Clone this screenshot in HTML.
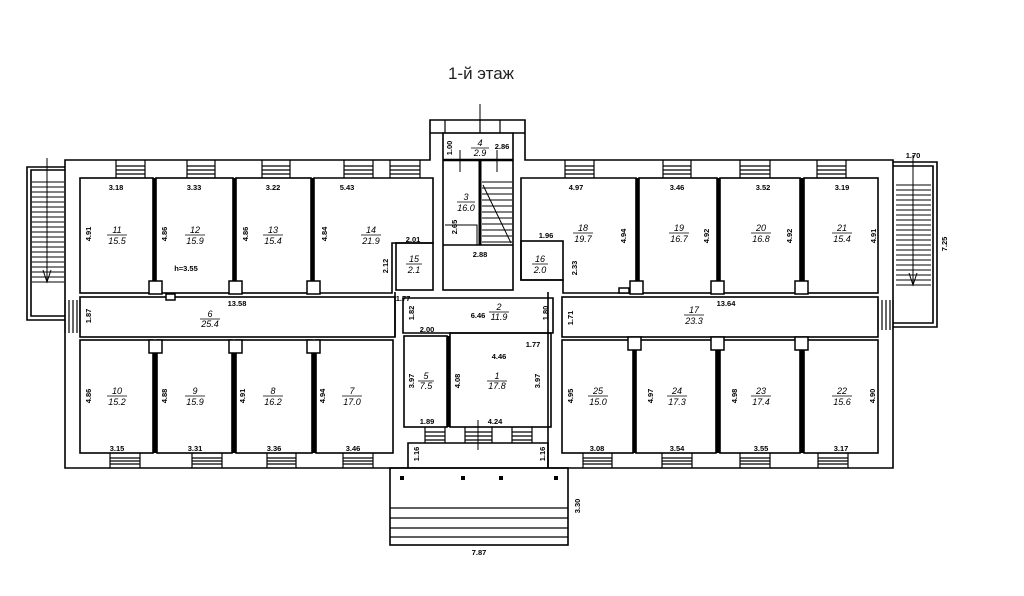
<!DOCTYPE html>
<html><head><meta charset="utf-8"><style>
html,body{margin:0;padding:0;background:#fff;}
svg{display:block;}
text{font-family:"Liberation Sans",sans-serif;}
.d{font-size:7.5px;font-weight:bold;}
.n{font-size:9px;font-style:italic;}
</style></head><body>
<svg width="1024" height="596" viewBox="0 0 1024 596" xmlns="http://www.w3.org/2000/svg">
<rect width="1024" height="596" fill="#fff"/>
<text x="481" y="79" font-size="17" text-anchor="middle" fill="#222">1-й этаж</text>

<g fill="none" stroke="#000" stroke-width="1.6">
<path d="M65,160 H430 V120 H525 V160 H893 V468 H65 Z" fill="#fff"/>
<path d="M430,133 H443 M513,133 H525"/>
<rect x="443" y="133" width="70" height="157"/>
<line x1="443" y1="160" x2="513" y2="160" stroke-width="2.5"/>
<line x1="443" y1="245" x2="513" y2="245"/>
<rect x="80" y="178" width="73" height="115"/>
<rect x="156" y="178" width="77" height="115"/>
<rect x="236" y="178" width="75" height="115"/>
<path d="M314,178 H433 V243 H392 V293 H314 Z"/>
<rect x="396" y="243" width="37" height="47"/>
<rect x="80" y="297" width="315" height="40"/>
<rect x="80" y="340" width="73" height="113"/>
<rect x="157" y="340" width="75" height="113"/>
<rect x="236" y="340" width="76" height="113"/>
<rect x="316" y="340" width="77" height="113"/>
<path d="M395,292 V337 M403,298 H553 V333 H403 Z"/>
<rect x="404" y="336" width="43" height="91"/>
<rect x="450" y="333" width="101" height="94"/>
<path d="M408,453 V443 H548 V453 M408,468 V453 M548,468 V453"/>
<path d="M521,178 H636 V293 H563 V280 H521 Z"/>
<rect x="521" y="241" width="42" height="39"/>
<rect x="639" y="178" width="78" height="115"/>
<rect x="720" y="178" width="80" height="115"/>
<rect x="804" y="178" width="74" height="115"/>
<path d="M548,292 V468"/>
<rect x="562" y="297" width="316" height="40"/>
<rect x="562" y="340" width="71" height="113"/>
<rect x="636" y="340" width="80" height="113"/>
<rect x="720" y="340" width="80" height="113"/>
<rect x="804" y="340" width="74" height="113"/>
<rect x="390" y="468" width="178" height="77"/>
<path d="M390,508 H568 M390,518 H568 M390,528 H568 M390,537 H568" stroke-width="1.2"/>
<path d="M65,167 H27 V320 H65 M65,170 H31 V316 H65"/>
<path d="M893,162 H937 V327 H893 M893,166 H933 V323 H893"/>
</g>

<g stroke="#000" stroke-width="3.5">
<line x1="154.5" y1="178" x2="154.5" y2="282"/>
<line x1="234.5" y1="178" x2="234.5" y2="282"/>
<line x1="312.5" y1="178" x2="312.5" y2="282"/>
<line x1="155" y1="350" x2="155" y2="453"/>
<line x1="234" y1="350" x2="234" y2="453"/>
<line x1="314" y1="350" x2="314" y2="453"/>
<line x1="448.5" y1="336" x2="448.5" y2="427"/>
<line x1="637.5" y1="178" x2="637.5" y2="282"/>
<line x1="718.5" y1="178" x2="718.5" y2="282"/>
<line x1="802" y1="178" x2="802" y2="282"/>
<line x1="634.5" y1="350" x2="634.5" y2="453"/>
<line x1="718" y1="350" x2="718" y2="453"/>
<line x1="802" y1="350" x2="802" y2="453"/>
<line x1="480" y1="160" x2="480" y2="245" stroke-width="3"/>
</g>

<g fill="#fff" stroke="#000" stroke-width="1.5">
<rect x="149" y="281" width="13" height="13"/><rect x="229" y="281" width="13" height="13"/><rect x="307" y="281" width="13" height="13"/>
<rect x="149" y="340" width="13" height="13"/><rect x="229" y="340" width="13" height="13"/><rect x="307" y="340" width="13" height="13"/>
<rect x="630" y="281" width="13" height="13"/><rect x="711" y="281" width="13" height="13"/><rect x="795" y="281" width="13" height="13"/>
<rect x="628" y="337" width="13" height="13"/><rect x="711" y="337" width="13" height="13"/><rect x="795" y="337" width="13" height="13"/>
<rect x="166" y="294" width="9" height="6"/><rect x="619" y="288" width="10" height="5"/>
</g>

<g stroke="#000" stroke-width="1.2" fill="none">
<path d="M116,160 V178 M145,160 V178 M116,166 H145 M116,170 H145 M116,174 H145
M187,160 V178 M215,160 V178 M187,166 H215 M187,170 H215 M187,174 H215
M262,160 V178 M290,160 V178 M262,166 H290 M262,170 H290 M262,174 H290
M344,160 V178 M373,160 V178 M344,166 H373 M344,170 H373 M344,174 H373
M390,160 V178 M420,160 V178 M390,166 H420 M390,170 H420 M390,174 H420
M565,160 V178 M594,160 V178 M565,166 H594 M565,170 H594 M565,174 H594
M663,160 V178 M691,160 V178 M663,166 H691 M663,170 H691 M663,174 H691
M740,160 V178 M770,160 V178 M740,166 H770 M740,170 H770 M740,174 H770
M817,160 V178 M846,160 V178 M817,166 H846 M817,170 H846 M817,174 H846
M110,453 V468 M140,453 V468 M110,458 H140 M110,461 H140 M110,464 H140
M192,453 V468 M222,453 V468 M192,458 H222 M192,461 H222 M192,464 H222
M267,453 V468 M296,453 V468 M267,458 H296 M267,461 H296 M267,464 H296
M343,453 V468 M373,453 V468 M343,458 H373 M343,461 H373 M343,464 H373
M583,453 V468 M612,453 V468 M583,458 H612 M583,461 H612 M583,464 H612
M662,453 V468 M692,453 V468 M662,458 H692 M662,461 H692 M662,464 H692
M740,453 V468 M770,453 V468 M740,458 H770 M740,461 H770 M740,464 H770
M818,453 V468 M848,453 V468 M818,458 H848 M818,461 H848 M818,464 H848
M425,427 V443 M445,427 V443 M425,432 H445 M425,436 H445 M425,440 H445
M465,427 V443 M492,427 V443 M465,432 H492 M465,436 H492 M465,440 H492
M512,427 V443 M532,427 V443 M512,432 H532 M512,436 H532 M512,440 H532
M445,120 V133 M500,120 V133
M65,300 V333 M80,300 V333 M69,300 V333 M73,300 V333 M77,300 V333
M878,300 V330 M893,300 V330 M882,300 V330 M886,300 V330 M890,300 V330
M480,120 V133"/>
</g>
<g stroke="#000" stroke-width="1" fill="none">
<path d="M32,182 H64 M32,187 H64 M32,192 H64 M32,197 H64 M32,202 H64 M32,207 H64 M32,212 H64 M32,217 H64 M32,222 H64 M32,227 H64 M32,232 H64 M32,237 H64 M32,242 H64 M32,247 H64 M32,252 H64 M32,257 H64 M32,262 H64 M32,267 H64 M32,272 H64 M32,277 H64 M32,282 H64"/>
<path d="M47,158 V282 M43,270 L47,282 L51,270"/>
<path d="M896,185 H931 M896,190 H931 M896,195 H931 M896,200 H931 M896,205 H931 M896,210 H931 M896,215 H931 M896,220 H931 M896,225 H931 M896,230 H931 M896,235 H931 M896,240 H931 M896,245 H931 M896,250 H931 M896,255 H931 M896,260 H931 M896,265 H931 M896,270 H931 M896,275 H931 M896,280 H931 M896,285 H931"/>
<path d="M913,155 V285 M909,273 L913,285 L917,273"/>
<path d="M482,182 H512 M482,188 H512 M482,194 H512 M482,200 H512 M482,206 H512 M482,212 H512 M482,218 H512 M482,224 H512 M482,230 H512 M482,236 H512 M482,242 H512 M483,185 L511,243"/>
<path d="M445,225 H477 V245 M460,150 V172 M497,150 V172 M480,104 V125 M478,420 V450"/>
</g>
<g fill="#000"><rect x="400" y="476" width="4" height="4"/><rect x="461" y="476" width="4" height="4"/><rect x="499" y="476" width="4" height="4"/><rect x="554" y="476" width="4" height="4"/></g>

<g class="d" text-anchor="middle" fill="#000">
<text x="116" y="190">3.18</text><text x="194" y="190">3.33</text><text x="273" y="190">3.22</text><text x="347" y="190">5.43</text>
<text x="413" y="242">2.01</text><text x="186" y="271">h=3.55</text>
<text x="237" y="306">13.58</text><text x="403" y="301">1.77</text><text x="427" y="332">2.00</text>
<text x="478" y="318">6.46</text><text x="499" y="359">4.46</text><text x="533" y="347">1.77</text>
<text x="427" y="424">1.89</text><text x="495" y="424">4.24</text>
<text x="480" y="257">2.88</text><text x="502" y="149">2.86</text>
<text x="576" y="190">4.97</text><text x="677" y="190">3.46</text><text x="763" y="190">3.52</text><text x="842" y="190">3.19</text>
<text x="546" y="238">1.96</text><text x="726" y="306">13.64</text><text x="913" y="158">1.70</text>
<text x="117" y="451">3.15</text><text x="195" y="451">3.31</text><text x="274" y="451">3.36</text><text x="353" y="451">3.46</text>
<text x="597" y="451">3.08</text><text x="677" y="451">3.54</text><text x="761" y="451">3.55</text><text x="841" y="451">3.17</text>
<text x="479" y="555">7.87</text>
</g>
<g class="d" text-anchor="middle" fill="#000">
<text transform="translate(91,234) rotate(-90)">4.91</text>
<text transform="translate(167,234) rotate(-90)">4.86</text>
<text transform="translate(248,234) rotate(-90)">4.86</text>
<text transform="translate(327,234) rotate(-90)">4.84</text>
<text transform="translate(388,266) rotate(-90)">2.12</text>
<text transform="translate(452,148) rotate(-90)">1.00</text>
<text transform="translate(457,227) rotate(-90)">2.65</text>
<text transform="translate(91,316) rotate(-90)">1.87</text>
<text transform="translate(414,313) rotate(-90)">1.82</text>
<text transform="translate(548,313) rotate(-90)">1.80</text>
<text transform="translate(573,318) rotate(-90)">1.71</text>
<text transform="translate(577,268) rotate(-90)">2.33</text>
<text transform="translate(626,236) rotate(-90)">4.94</text>
<text transform="translate(709,236) rotate(-90)">4.92</text>
<text transform="translate(792,236) rotate(-90)">4.92</text>
<text transform="translate(876,236) rotate(-90)">4.91</text>
<text transform="translate(947,244) rotate(-90)">7.25</text>
<text transform="translate(91,396) rotate(-90)">4.86</text>
<text transform="translate(167,396) rotate(-90)">4.88</text>
<text transform="translate(245,396) rotate(-90)">4.91</text>
<text transform="translate(325,396) rotate(-90)">4.94</text>
<text transform="translate(414,381) rotate(-90)">3.97</text>
<text transform="translate(460,381) rotate(-90)">4.08</text>
<text transform="translate(540,381) rotate(-90)">3.97</text>
<text transform="translate(573,396) rotate(-90)">4.95</text>
<text transform="translate(653,396) rotate(-90)">4.97</text>
<text transform="translate(737,396) rotate(-90)">4.98</text>
<text transform="translate(875,396) rotate(-90)">4.90</text>
<text transform="translate(419,454) rotate(-90)">1.16</text>
<text transform="translate(545,454) rotate(-90)">1.16</text>
<text transform="translate(580,506) rotate(-90)">3.30</text>
</g>

<g class="n" text-anchor="middle" fill="#000" stroke="none">
<text x="117" y="233">11</text><text x="117" y="244">15.5</text>
<text x="195" y="233">12</text><text x="195" y="244">15.9</text>
<text x="273" y="233">13</text><text x="273" y="244">15.4</text>
<text x="371" y="233">14</text><text x="371" y="244">21.9</text>
<text x="414" y="262">15</text><text x="414" y="273">2.1</text>
<text x="480" y="146">4</text><text x="480" y="156">2.9</text>
<text x="466" y="200">3</text><text x="466" y="211">16.0</text>
<text x="540" y="262">16</text><text x="540" y="273">2.0</text>
<text x="210" y="317">6</text><text x="210" y="327">25.4</text>
<text x="499" y="310">2</text><text x="499" y="320">11.9</text>
<text x="117" y="394">10</text><text x="117" y="405">15.2</text>
<text x="195" y="394">9</text><text x="195" y="405">15.9</text>
<text x="273" y="394">8</text><text x="273" y="405">16.2</text>
<text x="352" y="394">7</text><text x="352" y="405">17.0</text>
<text x="426" y="379">5</text><text x="426" y="389">7.5</text>
<text x="497" y="379">1</text><text x="497" y="389">17.8</text>
<text x="583" y="231">18</text><text x="583" y="242">19.7</text>
<text x="679" y="231">19</text><text x="679" y="242">16.7</text>
<text x="761" y="231">20</text><text x="761" y="242">16.8</text>
<text x="842" y="231">21</text><text x="842" y="242">15.4</text>
<text x="694" y="313">17</text><text x="694" y="324">23.3</text>
<text x="598" y="394">25</text><text x="598" y="405">15.0</text>
<text x="677" y="394">24</text><text x="677" y="405">17.3</text>
<text x="761" y="394">23</text><text x="761" y="405">17.4</text>
<text x="842" y="394">22</text><text x="842" y="405">15.6</text>
</g>
<g stroke="#000" stroke-width="0.8">
<path d="M107,235 H127 M185,235 H205 M263,235 H283 M361,235 H381 M406,264 H422 M471,148 H489 M457,202 H475 M532,264 H548 M200,319 H220 M489,312 H509 M107,396 H127 M185,396 H205 M263,396 H283 M342,396 H362 M418,381 H434 M487,381 H507 M573,233 H593 M669,233 H689 M751,233 H771 M832,233 H852 M684,315 H704 M588,396 H608 M667,396 H687 M751,396 H771 M832,396 H852"/>
</g>
</svg>
</body></html>
